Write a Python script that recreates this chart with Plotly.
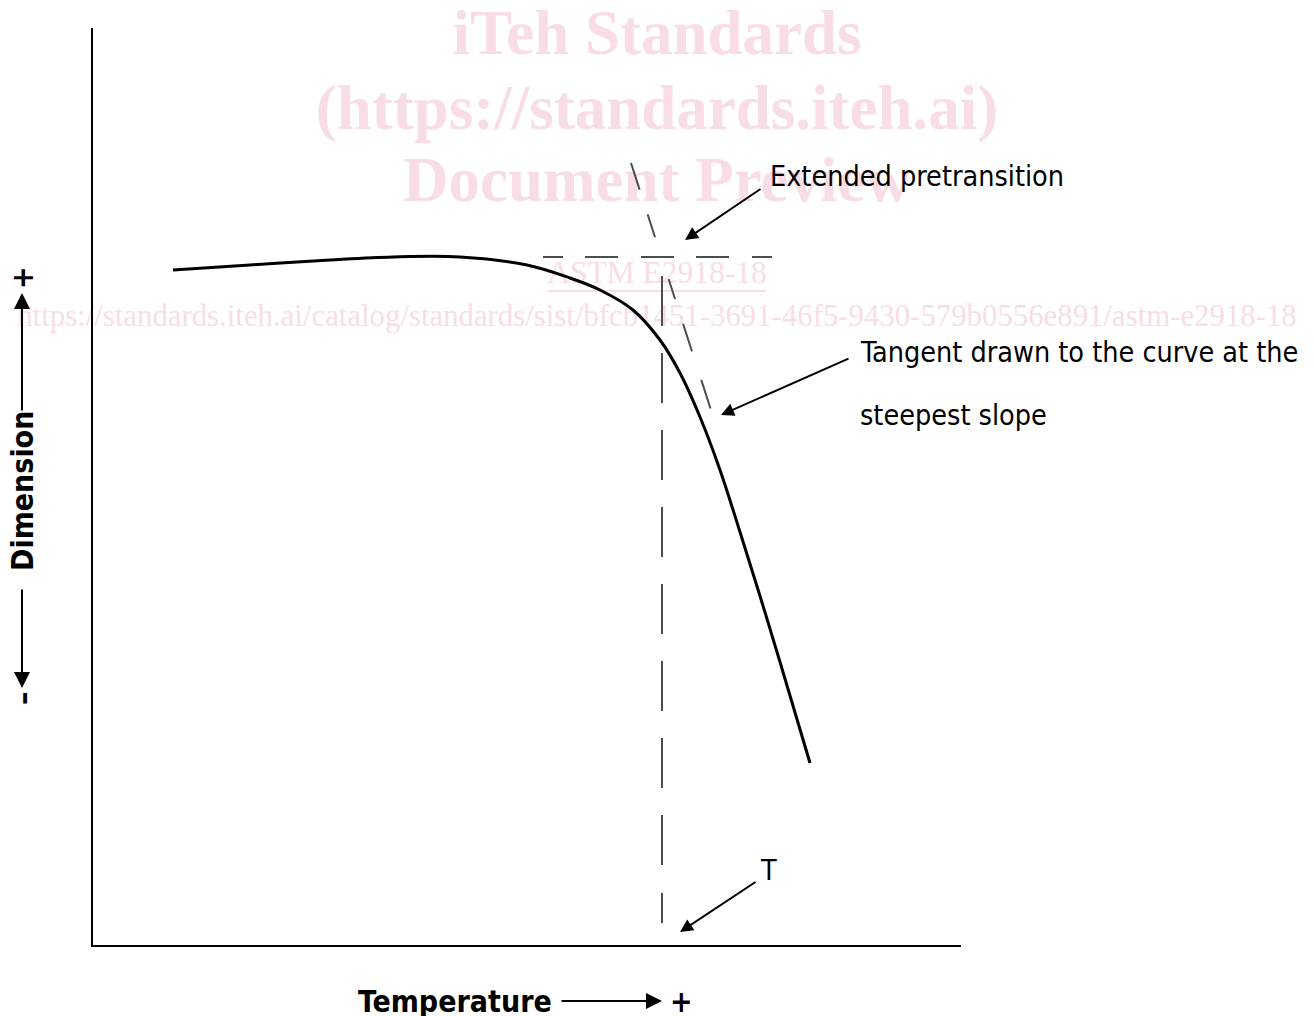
import plotly.graph_objects as go

# ---------------- data (arbitrary units: x = temperature, y = dimension) ----------------
curve_temp = [81, 158, 238, 301, 368, 435, 478, 508, 541, 568, 588, 608, 628, 648, 668, 688, 718]
curve_dim = [676, 681, 686, 689, 689, 681, 668, 656, 636, 606, 573, 529, 476, 414, 350, 284, 183]

axis_temp = [0, 0, 869]
axis_dim = [918, 0, 0]

pretransition_temp = [451, 681]
pretransition_dim = [689, 689]

onset_temp = [570, 570]
onset_dim = [23, 689]

tangent_temp = [539, 619]
tangent_dim = [783, 536]

labels = {
    "pre": "Extended pretransition",
    "tan1": "Tangent drawn to the curve at the",
    "tan2": "steepest slope",
    "T": "T",
    "xlab": "Temperature",
    "ylab": "Dimension",
}

watermark_lines = ["iTeh Standards", "(https://standards.iteh.ai)", "Document Preview"]
watermark_small = ["ASTM E2918-18",
                   "https://standards.iteh.ai/catalog/standards/sist/bfcb1451-3691-46f5-9430-579b0556e891/astm-e2918-18"]

# ---------------- figure ----------------
WM = "#f9dde6"
LABEL_FONT = "DejaVu Sans Condensed, DejaVu Sans, sans-serif"
fig = go.Figure()

# watermark (drawn first so it sits beneath the lines)
fig.add_trace(go.Scatter(
    x=[565, 565, 565], y=[908, 833, 761], mode="text", text=watermark_lines,
    textfont=dict(family="Liberation Serif", size=63, color=WM, weight="bold"),
    textposition="middle center", hoverinfo="skip"))
fig.add_trace(go.Scatter(
    x=[565, 565], y=[671, 628], mode="text", text=watermark_small,
    textfont=dict(family="Liberation Serif", size=[31.5, 30.8], color=WM),
    textposition="middle center", hoverinfo="skip"))
fig.add_shape(type="line", x0=456, x1=674, y0=655, y1=655, xref="x", yref="y",
              line=dict(color=WM, width=2), layer="below")

# axes
fig.add_trace(go.Scatter(x=axis_temp, y=axis_dim, mode="lines",
                         line=dict(color="black", width=2), hoverinfo="skip"))

# dashed construction lines
dash_col = "#4d4d4d"
fig.add_trace(go.Scatter(x=pretransition_temp, y=pretransition_dim, mode="lines",
                         line=dict(color=dash_col, width=2,
                                   dash="20px,22px,33px,23px,33px,22px,33px,23px,20px"),
                         hoverinfo="skip"))
fig.add_trace(go.Scatter(x=onset_temp, y=onset_dim, mode="lines",
                         line=dict(color=dash_col, width=2,
                                   dash="30px,28px" + ",50px,27px" * 9),
                         hoverinfo="skip"))
fig.add_trace(go.Scatter(x=tangent_temp, y=tangent_dim, mode="lines",
                         line=dict(color=dash_col, width=2,
                                   dash="28px,26px,24px,44px,21px,26px,29px,30px,30px"),
                         hoverinfo="skip"))

# main curve
fig.add_trace(go.Scatter(x=curve_temp, y=curve_dim, mode="lines",
                         line=dict(color="black", width=3, shape="spline", smoothing=1.0),
                         hoverinfo="skip"))

# arrows
def arrow(head, tail, size=1.3, width=2):
    fig.add_annotation(x=head[0], y=head[1], ax=tail[0], ay=tail[1],
                       xref="x", yref="y", axref="x", ayref="y", text="",
                       showarrow=True, arrowhead=2, arrowsize=size, arrowwidth=width,
                       arrowcolor="black", standoff=0, startstandoff=0)

arrow((593, 706), (670, 758))
arrow((629, 531), (758, 588))
arrow((588, 14), (665, 65))
arrow((570, -55), (468, -55), size=1.6)
arrow((-70, 653), (-70, 534), size=1.6)
arrow((-70, 258), (-70, 358), size=1.6)

# text labels
def label(x, y, text, size=28.5, bold=False, anchor="left", angle=0):
    fig.add_annotation(x=x, y=y, xref="x", yref="y", text=text, showarrow=False,
                       xanchor=anchor, yanchor="middle", textangle=angle,
                       font=dict(family=LABEL_FONT, size=size, color="black",
                                 weight="bold" if bold else "normal"))

label(676, 770, labels["pre"])
label(766, 594, labels["tan1"])
label(766, 531, labels["tan2"])
label(676, 76, labels["T"], anchor="center")
label(363, -55, labels["xlab"], size=30, bold=True, anchor="center")
label(589, -55, "+", size=30, bold=True, anchor="center")
label(-70, 455, labels["ylab"], size=30, bold=True, anchor="center", angle=-90)
label(-70, 668, "+", size=30, bold=True, anchor="center", angle=-90)
label(-70, 248, "–", size=30, bold=True, anchor="center", angle=-90)

# page body has an 8px margin: shift the ranges so marks land at the reference pixels
fig.update_layout(
    width=1314, height=1016,
    margin=dict(l=0, r=0, t=0, b=0),
    paper_bgcolor="white", plot_bgcolor="white",
    showlegend=False, hovermode=False,
    xaxis=dict(range=[-84, 1230], visible=False, fixedrange=True),
    yaxis=dict(range=[-78, 938], visible=False, fixedrange=True),
)

fig.write_html("out.html")
